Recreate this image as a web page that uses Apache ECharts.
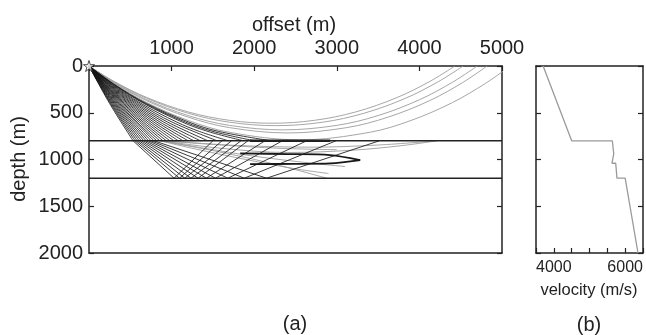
<!DOCTYPE html>
<html>
<head>
<meta charset="utf-8">
<script src="https://cdn.jsdelivr.net/npm/echarts@6/dist/echarts.min.js"></script>
<style>
  html, body { margin: 0; padding: 0; background: #fff; }
  #chart { width: 646px; height: 335px; }
</style>
</head>
<body>
<div id="chart"></div>
<script>
// ---- axes ----
const offsetRange = [0, 5000];
const depthRange = [0, 2000];
const velocityRange = [3500, 6500];
const offsetLabels = [1000, 2000, 3000, 4000, 5000];
const depthLabels = [0, 500, 1000, 1500, 2000];
const velocityLabels = [4000, 6000];
const interfaceDepths = [800, 1200];
const source = [0, 0];

// ---- ray paths, [offset m, depth m] ----
// top-layer arcs of rays that cross the 800 m interface
const transmittedArcs = [
  [[0,0],[249,400],[534,800]],
  [[0,0],[259,400],[558,800]],
  [[0,0],[269,400],[582,800]],
  [[0,0],[280,400],[608,800]],
  [[0,0],[292,400],[634,800]],
  [[0,0],[304,400],[662,800]],
  [[0,0],[316,400],[691,800]],
  [[0,0],[328,400],[721,800]],
  [[0,0],[342,400],[752,800]],
  [[0,0],[356,400],[786,800]]
];
// straight legs inside the 800-1200 m layer, bouncing off 1200 m
const layerLegs = [
  [[534,800],[1030,1200],[1500,800]],
  [[558,800],[1095,1200],[1610,800]],
  [[582,800],[1160,1200],[1726,800]],
  [[608,800],[1235,1200],[1840,800]],
  [[634,800],[1320,1200],[1924,800]],
  [[662,800],[1420,1200],[2130,800]],
  [[691,800],[1530,1200],[2340,800]],
  [[721,800],[1680,1200],[2635,800]],
  [[752,800],[1880,1200],[2990,800]],
  [[786,800],[2150,1200],[3515,800]]
];
// wide-angle rays ending on the 800 m interface
const wideRays = [
  [[0,0],[176,200],[369,400],[583,600],[820,800]],
  [[0,0],[183,200],[384,400],[608,600],[857,800]],
  [[0,0],[190,200],[399,400],[633,600],[896,800]],
  [[0,0],[196,200],[415,400],[659,600],[937,800]],
  [[0,0],[203,200],[431,400],[688,600],[981,800]],
  [[0,0],[211,200],[449,400],[718,600],[1030,800]],
  [[0,0],[220,200],[468,400],[751,600],[1082,800]],
  [[0,0],[228,200],[487,400],[785,600],[1139,800]],
  [[0,0],[237,200],[507,400],[822,600],[1201,800]],
  [[0,0],[245,200],[528,400],[861,600],[1270,800]],
  [[0,0],[255,200],[552,400],[905,600],[1350,800]],
  [[0,0],[266,200],[576,400],[952,600],[1441,800]],
  [[0,0],[277,200],[603,400],[1006,600],[1552,800]],
  [[0,0],[287,200],[630,400],[1063,600],[1337,700],[1686,800]],
  [[0,0],[299,200],[662,400],[1130,600],[1440,700],[1870,800]],
  [[0,0],[306,200],[679,400],[1168,600],[1501,700],[2002,800]],
  [[0,0],[313,200],[696,400],[1209,600],[1571,700],[2204,800]]
];
// rays turning above 800 m and returning to the surface
const divingRays = [
  [[0,0],[300,163],[700,337],[1200,491],[1700,581],[2215,612],[2730,581],[3230,491],[3730,337],[4130,163],[4430,0]],
  [[0,0],[300,167],[700,346],[1200,505],[1700,601],[2265,638],[2830,601],[3330,505],[3830,346],[4230,167],[4530,0]],
  [[0,0],[300,174],[700,361],[1200,530],[1700,635],[2350,683],[3000,635],[3500,530],[4000,361],[4400,174],[4700,0]],
  [[0,0],[300,179],[700,372],[1200,547],[1700,659],[2410,716],[3120,659],[3620,547],[4120,372],[4520,179],[4820,0]],
  [[0,0],[300,186],[700,391],[1200,582],[1700,709],[2550,790],[3400,709],[3900,582],[4400,391],[4800,186],[5100,0]]
];
// near-critical rays travelling along the 800-1200 m layer
const layerRays = [
  [[880,800],[1600,880],[2400,925],[3200,900],[3800,850],[4210,800]],
  [[920,800],[1800,850],[2700,868],[3500,845],[4210,800]],
  [[850,800],[1500,905],[2200,1040],[2877,1200]],
  [[870,800],[1400,880],[2000,965],[2700,1040],[3100,1075]],
  [[860,800],[1300,890],[1900,1000],[2500,1100],[2900,1150]],
  [[900,800],[1600,845],[2300,880],[3000,895]]
];
// rays trapped in the low-velocity channel
const channelUpper = [[1830,935],[2400,942],[2918,953],[3283,1007]];
const channelLower = [[1950,1049],[2500,1047],[2918,1042],[3283,1007]];
const headWave = [[1950,800],[2920,800]];

// ---- velocity profile ----
const profileVelocity = [3700, 4500, 5640, 5680, 5630, 5630, 5735, 5770, 6000, 6360];
const profileDepth    = [0,    800,  800,  940,  940,  1040, 1040, 1200, 1200, 2000];

const FONT = '"Liberation Sans", Arial, Helvetica, sans-serif';
const INK = '#222';
const BLACK_RAY = '#181818';
const GRAY_RAY = '#9c9c9c';

function raySeries(path, color, width, smooth) {
  return {
    type: 'line', xAxisIndex: 0, yAxisIndex: 0,
    data: path, showSymbol: false, symbol: 'none',
    smooth: smooth, smoothMonotone: null,
    lineStyle: { color: color, width: width },
    silent: true, z: 2
  };
}

const series = [];
divingRays.forEach(p => series.push(raySeries(p, GRAY_RAY, 0.9, 0.35)));
layerRays.forEach(p => series.push(raySeries(p, GRAY_RAY, 0.9, 0.35)));
wideRays.forEach(p => series.push(raySeries(p, BLACK_RAY, 0.85, 0.35)));
transmittedArcs.forEach(p => series.push(raySeries(p, BLACK_RAY, 0.85, 0.35)));
layerLegs.forEach(p => series.push(raySeries(p, BLACK_RAY, 0.85, false)));
series.push(raySeries(channelUpper, BLACK_RAY, 1.8, 0.3));
series.push(raySeries(channelLower, BLACK_RAY, 1.8, 0.3));
series.push(raySeries(headWave, BLACK_RAY, 2.6, false));

interfaceDepths.forEach(d => {
  series.push({
    type: 'line', xAxisIndex: 0, yAxisIndex: 0,
    data: [[offsetRange[0], d], [offsetRange[1], d]],
    symbol: 'none', lineStyle: { color: INK, width: 1.6 }, z: 5, silent: true
  });
});

series.push({
  type: 'scatter', xAxisIndex: 0, yAxisIndex: 0,
  data: [source], clip: false, z: 10, silent: true,
  symbol: 'path://M50,0 L61.8,36.2 L100,36.2 L69.1,58.6 L80.9,95.1 L50,72.7 L19.1,95.1 L30.9,58.6 L0,36.2 L38.2,36.2 Z',
  symbolSize: 11,
  itemStyle: { color: '#fff', borderColor: INK, borderWidth: 1 }
});

series.push({
  type: 'line', xAxisIndex: 2, yAxisIndex: 2,
  data: profileVelocity.map((v, i) => [v, profileDepth[i]]),
  symbol: 'none', lineStyle: { color: '#9a9a9a', width: 1.3 }, silent: true
});

const lineStyle = { color: INK, width: 1.5 };
const tickIn = { show: true, inside: true, length: 5, lineStyle: { color: INK, width: 1.2 } };
const noTick = { show: false };

const option = {
  animation: false,
  backgroundColor: '#fff',
  grid: [
    { left: 89, top: 66, width: 413, height: 187 },
    { left: 536, top: 66, width: 107, height: 187 }
  ],
  xAxis: [
    { gridIndex: 0, type: 'value', position: 'top', min: offsetRange[0], max: offsetRange[1], interval: 1000,
      axisLine: { show: true, onZero: false, lineStyle }, axisTick: tickIn, splitLine: { show: false },
      axisLabel: { margin: 8, fontSize: 20, fontFamily: FONT, color: INK,
        formatter: v => offsetLabels.includes(v) ? String(v) : '' } },
    { gridIndex: 0, type: 'value', position: 'bottom', min: offsetRange[0], max: offsetRange[1],
      axisLine: { show: true, onZero: false, lineStyle }, axisTick: noTick, axisLabel: { show: false }, splitLine: { show: false } },
    { gridIndex: 1, type: 'value', position: 'bottom', min: velocityRange[0], max: velocityRange[1], interval: 500,
      axisLine: { show: true, onZero: false, lineStyle }, axisTick: tickIn, splitLine: { show: false },
      axisLabel: { margin: 7, fontSize: 16, fontFamily: FONT, color: INK, showMinLabel: true, showMaxLabel: true,
        formatter: v => velocityLabels.includes(v) ? String(v) : '' } },
    { gridIndex: 1, type: 'value', position: 'top', min: velocityRange[0], max: velocityRange[1],
      axisLine: { show: true, onZero: false, lineStyle }, axisTick: noTick, axisLabel: { show: false }, splitLine: { show: false } }
  ],
  yAxis: [
    { gridIndex: 0, type: 'value', inverse: true, position: 'left', min: depthRange[0], max: depthRange[1], interval: 500,
      axisLine: { show: true, onZero: false, lineStyle }, axisTick: tickIn, splitLine: { show: false },
      axisLabel: { margin: 6, fontSize: 20, fontFamily: FONT, color: INK,
        formatter: v => depthLabels.includes(v) ? String(v) : '' } },
    { gridIndex: 0, type: 'value', inverse: true, position: 'right', min: depthRange[0], max: depthRange[1], interval: 500,
      axisLine: { show: true, onZero: false, lineStyle }, axisTick: tickIn, axisLabel: { show: false }, splitLine: { show: false } },
    { gridIndex: 1, type: 'value', inverse: true, position: 'left', min: depthRange[0], max: depthRange[1], interval: 500,
      axisLine: { show: true, onZero: false, lineStyle }, axisTick: tickIn, axisLabel: { show: false }, splitLine: { show: false } },
    { gridIndex: 1, type: 'value', inverse: true, position: 'right', min: depthRange[0], max: depthRange[1], interval: 500,
      axisLine: { show: true, onZero: false, lineStyle }, axisTick: tickIn, axisLabel: { show: false }, splitLine: { show: false } }
  ],
  graphic: [
    { type: 'text', x: 294, y: 25, style: { text: 'offset (m)', fontSize: 20, fontFamily: FONT, fill: INK, align: 'center', verticalAlign: 'middle', textAlign: 'center', textVerticalAlign: 'middle' } },
    { type: 'text', x: 19, y: 159, rotation: Math.PI / 2, style: { text: 'depth (m)', fontSize: 20, fontFamily: FONT, fill: INK, align: 'center', verticalAlign: 'middle', textAlign: 'center', textVerticalAlign: 'middle' } },
    { type: 'text', x: 295, y: 324, style: { text: '(a)', fontSize: 20, fontFamily: FONT, fill: INK, align: 'center', verticalAlign: 'middle', textAlign: 'center', textVerticalAlign: 'middle' } },
    { type: 'text', x: 589, y: 290, style: { text: 'velocity (m/s)', fontSize: 16.5, fontFamily: FONT, fill: INK, align: 'center', verticalAlign: 'middle', textAlign: 'center', textVerticalAlign: 'middle' } },
    { type: 'text', x: 589, y: 325, style: { text: '(b)', fontSize: 20, fontFamily: FONT, fill: INK, align: 'center', verticalAlign: 'middle', textAlign: 'center', textVerticalAlign: 'middle' } }
  ],
  series: series
};

const chart = echarts.init(document.getElementById('chart'), null, { renderer: 'canvas' });
chart.setOption(option);
</script>
</body>
</html>
